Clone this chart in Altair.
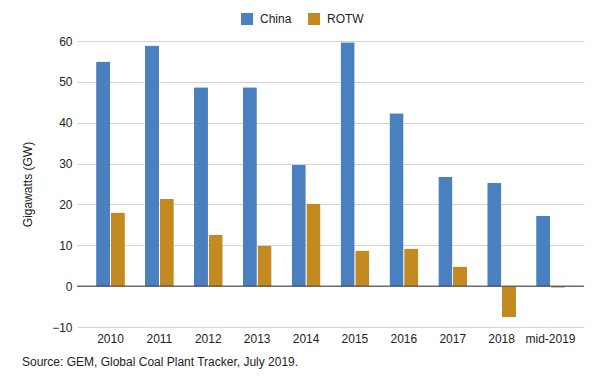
import altair as alt
import pandas as pd

years = ["2010", "2011", "2012", "2013", "2014", "2015", "2016", "2017", "2018", "mid-2019"]
china = [55.0, 58.9, 48.7, 48.7, 29.7, 59.7, 42.3, 26.7, 25.3, 17.2]
rotw = [18.0, 21.3, 12.6, 9.9, 20.2, 8.7, 9.2, 4.8, -7.6, -0.4]
series = ["China", "ROTW"]
colors = ["#4a80c0", "#c48a22"]
y_ticks = [-10, 0, 10, 20, 30, 40, 50, 60]

rows = []
for i, yr in enumerate(years):
    rows.append({"year": yr, "series": "China", "value": china[i]})
    rows.append({"year": yr, "series": "ROTW", "value": rotw[i]})
df = pd.DataFrame(rows)

FONT = "Liberation Sans"

bars = alt.Chart(df).mark_bar(cornerRadius=1).encode(
    x=alt.X("year:N", sort=years,
            scale=alt.Scale(paddingInner=0.41, paddingOuter=0.39),
            axis=alt.Axis(title=None, labelAngle=0, domain=False, ticks=False,
                          labelPadding=6, labelFontSize=12, labelColor="#222",
                          labelFont=FONT, grid=False)),
    xOffset=alt.XOffset("series:N", sort=series, scale=alt.Scale(paddingInner=0.04)),
    y=alt.Y("value:Q",
            scale=alt.Scale(domain=[-10, 60], nice=False, zero=False),
            axis=alt.Axis(title="Gigawatts (GW)", values=y_ticks, domain=False, ticks=False,
                          labelPadding=5, labelFontSize=12, labelColor="#222", labelFont=FONT,
                          gridColor="#d4d4d4", titleFont=FONT, titleFontSize=12,
                          titleFontWeight="normal", titleColor="#222",
                          titleX=-50, titleY=143, titleAlign="center", titleBaseline="middle",
                          titleAngle=270)),
    color=alt.Color("series:N", sort=series,
                    scale=alt.Scale(domain=series, range=colors),
                    legend=alt.Legend(title=None, orient="none", legendX=164, legendY=-28,
                                      direction="horizontal", symbolType="square",
                                      symbolSize=144, symbolStrokeWidth=0,
                                      labelFontSize=12, labelFont=FONT, labelColor="#222",
                                      columnPadding=16, labelOffset=7)),
)

zero = alt.Chart(pd.DataFrame({"z": [0]})).mark_rule(color="#333", strokeWidth=1).encode(
    y=alt.Y("z:Q")
)

chart = alt.layer(bars, zero).properties(
    width=507, height=286,
    autosize=alt.AutoSizeParams(type="none"),
    padding={"left": 69, "top": 33, "right": 16, "bottom": 50},
    title=alt.TitleParams("Source: GEM, Global Coal Plant Tracker, July 2019.",
                          orient="bottom", anchor="start", dx=1, offset=13,
                          fontSize=12, font=FONT, fontWeight="normal", color="#222"),
).configure_view(stroke=None)

chart.save("out.html", embed_options={"renderer": "svg", "actions": False})
